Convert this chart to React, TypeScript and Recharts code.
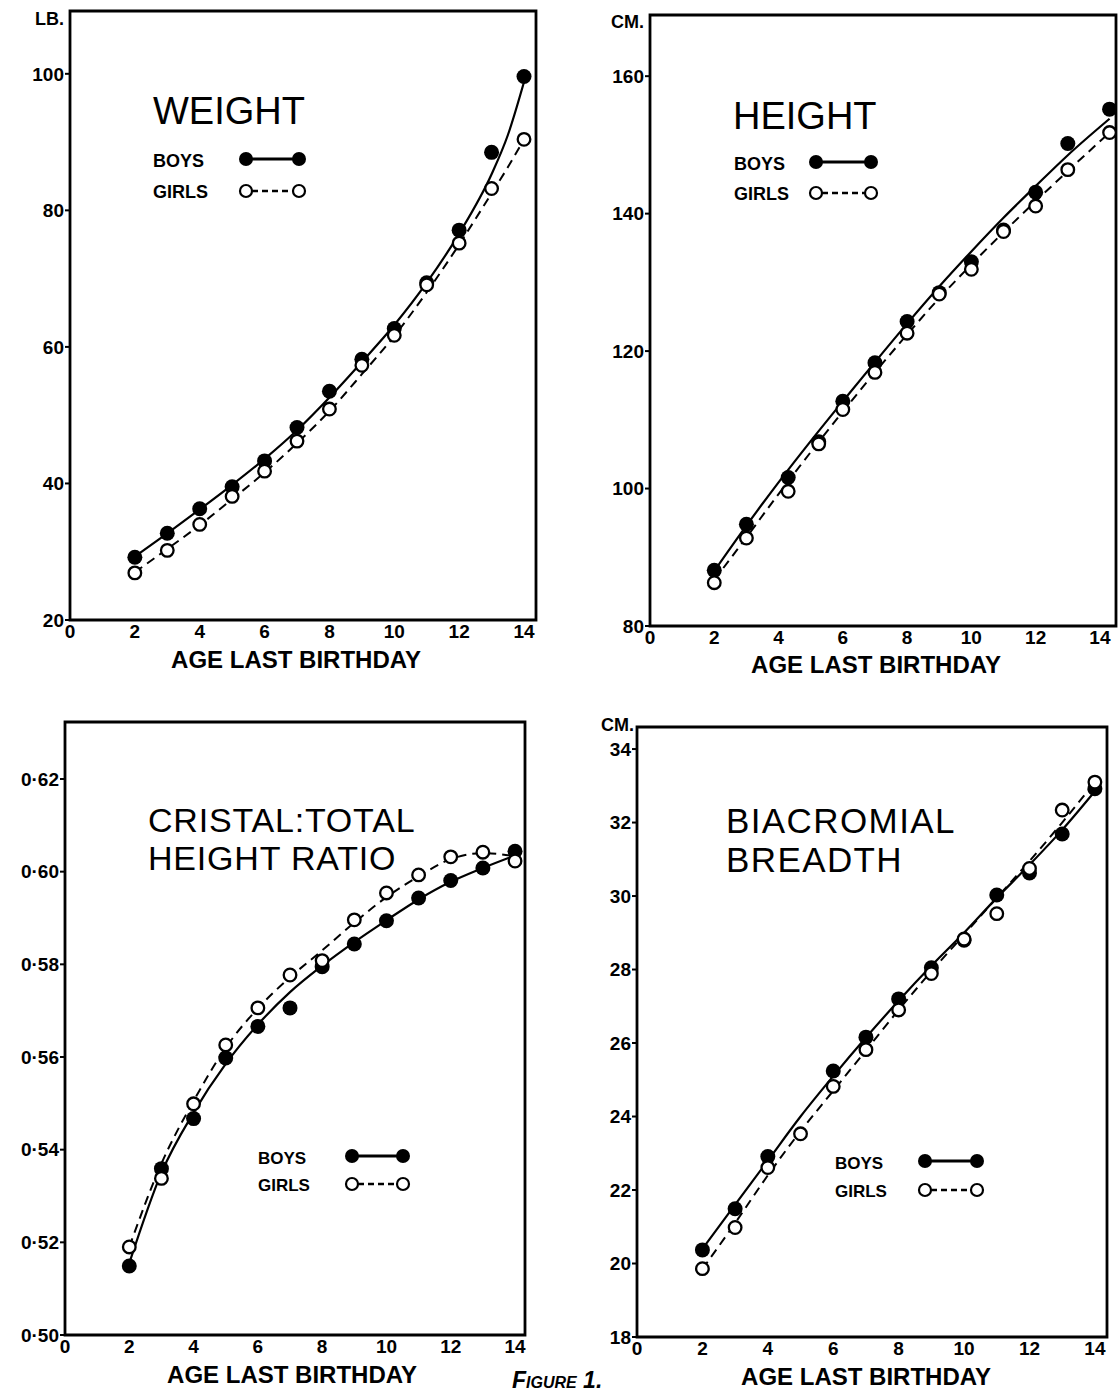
import React from 'react';
import { ComposedChart, Line, Scatter, XAxis, YAxis, ReferenceArea } from 'recharts';

// ages (years, "age last birthday")
const ages = [2, 3, 4, 5, 6, 7, 8, 9, 10, 11, 12, 13, 14];
const heightAges = [2, 3, 4.3, 5.25, 6, 7, 8, 9, 10, 11, 12, 13, 14.3];
const biacBoysAges = [2, 3, 4, 6, 7, 8, 9, 10, 11, 12, 13, 14];

// weight (lb)
const boysWeight = [29.2, 32.7, 36.3, 39.5, 43.3, 48.2, 53.5, 58.2, 62.7, 69.4, 77.1, 88.5, 99.6];
const girlsWeight = [26.9, 30.2, 34.0, 38.1, 41.8, 46.2, 50.9, 57.3, 61.7, 69.1, 75.2, 83.2, 90.4];
const fitWeightAges = [2, 3, 4, 5, 6, 7, 8, 9, 10, 11, 12, 13, 13.5, 14];
const boysWeightFit = [29.3, 32.7, 36.2, 39.8, 43.6, 47.8, 52.6, 57.8, 63.2, 69.4, 76.6, 85.3, 91.0, 98.8];
const girlsWeightFit = [27.0, 30.4, 33.9, 37.7, 41.6, 45.9, 50.6, 56.0, 61.6, 68.0, 75.0, 82.5, 86.3, 90.4];

// height (cm)
const boysHeight = [88.1, 94.8, 101.6, 106.8, 112.7, 118.3, 124.3, 128.5, 133.0, 137.6, 143.1, 150.2, 155.2];
const girlsHeight = [86.3, 92.8, 99.6, 106.5, 111.5, 116.9, 122.6, 128.3, 131.9, 137.4, 141.1, 146.4, 151.8];
const fitHeightAges = [2, 3, 4, 5, 6, 7, 8, 9, 10, 11, 12, 13, 14.3];
const boysHeightFit = [88.0, 94.6, 100.9, 106.9, 112.7, 118.4, 124.0, 129.4, 134.5, 139.4, 144.0, 148.5, 153.8];
const girlsHeightFit = [86.7, 92.9, 99.2, 105.3, 111.2, 116.9, 122.4, 127.7, 132.6, 137.3, 141.8, 146.2, 151.8];

// cristal : total height ratio
const boysRatio = [0.5149, 0.5359, 0.5467, 0.5598, 0.5666, 0.5706, 0.5795, 0.5844, 0.5894, 0.5943, 0.5981, 0.6008, 0.6044];
const girlsRatio = [0.519, 0.5338, 0.5499, 0.5626, 0.5706, 0.5777, 0.5808, 0.5896, 0.5954, 0.5993, 0.6032, 0.6042, 0.6023];
const boysRatioFit = [0.5155, 0.535, 0.548, 0.5585, 0.567, 0.574, 0.5797, 0.5848, 0.5895, 0.594, 0.5978, 0.6008, 0.6035];
const girlsRatioFit = [0.519, 0.537, 0.5505, 0.562, 0.5705, 0.5772, 0.583, 0.589, 0.5945, 0.599, 0.6027, 0.604, 0.6033];

// biacromial breadth (cm)
const boysBiac = [20.37, 21.49, 22.91, 25.24, 26.16, 27.2, 28.05, 28.8, 30.03, 30.63, 31.69, 32.92];
const girlsBiac = [19.86, 20.98, 22.61, 23.53, 24.82, 25.82, 26.9, 27.89, 28.83, 29.52, 30.75, 32.34, 33.1];
const boysBiacFit = [20.4, 21.6, 22.8, 24.0, 25.1, 26.15, 27.15, 28.1, 29.0, 29.95, 30.85, 31.8, 32.85];
const girlsBiacFit = [19.85, 21.1, 22.4, 23.6, 24.7, 25.8, 26.9, 27.95, 28.95, 29.95, 30.95, 32.0, 33.1];

const xTicks = [0, 2, 4, 6, 8, 10, 12, 14];
const weightTicks = [20, 40, 60, 80, 100];
const heightTicks = [80, 100, 120, 140, 160];
const ratioTicks = [0.5, 0.52, 0.54, 0.56, 0.58, 0.6, 0.62];
const biacTicks = [18, 20, 22, 24, 26, 28, 30, 32, 34];

type Pt = { x: number; y: number };
const zip = (xs: number[], ys: number[]): Pt[] => ys.map((y, i) => ({ x: xs[i], y }));

const FONT = '"Liberation Sans", Arial, sans-serif';

const filledDot = (p: any) => <circle cx={p.cx} cy={p.cy} r={7.5} fill="#000" />;
const openDot = (p: any) => (
  <circle cx={p.cx} cy={p.cy} r={6.3} fill="#fff" stroke="#000" strokeWidth={2.3} />
);

type Box = { l: number; r: number; t: number; b: number };

function Panel(props: {
  box: Box;
  xMax: number;
  yDomain: [number, number];
  yTicks: number[];
  fmt?: (v: number) => string;
  boys: Pt[];
  girls: Pt[];
  boysFit: Pt[];
  girlsFit: Pt[];
}) {
  const { box, xMax, yDomain, yTicks, fmt, boys, girls, boysFit, girlsFit } = props;
  const YW = 70;
  const XH = 40;
  const PAD = 10;
  const w = box.r - box.l;
  const h = box.b - box.t;
  const tickStyle = { fontFamily: FONT, fontWeight: 700, fontSize: 19, fill: '#000' };
  return (
    <div style={{ position: 'absolute', left: box.l - YW, top: box.t - PAD }}>
      <ComposedChart
        width={w + YW + PAD}
        height={h + PAD + XH}
        margin={{ top: PAD, right: PAD, left: 0, bottom: 0 }}
      >
        <XAxis
          type="number"
          dataKey="x"
          domain={[0, xMax]}
          ticks={xTicks}
          allowDataOverflow
          height={XH}
          axisLine={false}
          tickLine={false}
          tickSize={1}
          tickMargin={4}
          tick={tickStyle}
        />
        <YAxis
          type="number"
          dataKey="y"
          domain={yDomain}
          ticks={yTicks}
          allowDataOverflow
          width={YW}
          axisLine={false}
          tickSize={5}
          tickMargin={1}
          tickLine={{ stroke: '#000', strokeWidth: 2 }}
          tickFormatter={fmt}
          tick={tickStyle}
        />
        <ReferenceArea
          x1={0}
          x2={xMax}
          y1={yDomain[0]}
          y2={yDomain[1]}
          fill="none"
          stroke="#000"
          strokeWidth={2.8}
          fillOpacity={0}
        />
        <Line data={girlsFit} dataKey="y" type="monotone" stroke="#000" strokeWidth={2}
          strokeDasharray="9 6" dot={false} isAnimationActive={false} />
        <Line data={boysFit} dataKey="y" type="monotone" stroke="#000" strokeWidth={2.2}
          dot={false} isAnimationActive={false} />
        <Scatter data={boys} dataKey="y" shape={filledDot} isAnimationActive={false} />
        <Scatter data={girls} dataKey="y" shape={openDot} isAnimationActive={false} />
      </ComposedChart>
    </div>
  );
}

function Key({ x, y1, y2, d1, d2, size }: { x: number; y1: number; y2: number; d1: number; d2: number; size: number }) {
  return (
    <g>
      <text x={x} y={y1} fontFamily={FONT} fontWeight={700} fontSize={size}>BOYS</text>
      <text x={x} y={y2} fontFamily={FONT} fontWeight={700} fontSize={size}>GIRLS</text>
      <line x1={d1} x2={d2} y1={y1 - 8} y2={y1 - 8} stroke="#000" strokeWidth={2.8} />
      <circle cx={d1} cy={y1 - 8} r={7} fill="#000" />
      <circle cx={d2} cy={y1 - 8} r={7} fill="#000" />
      <line x1={d1 + 6} x2={d2 - 6} y1={y2 - 7} y2={y2 - 7} stroke="#000" strokeWidth={2.6} strokeDasharray="6 4" />
      <circle cx={d1} cy={y2 - 7} r={6} fill="#fff" stroke="#000" strokeWidth={2.2} />
      <circle cx={d2} cy={y2 - 7} r={6} fill="#fff" stroke="#000" strokeWidth={2.2} />
    </g>
  );
}

export default function App() {
  const ratioFmt = (v: number) => v.toFixed(2).replace('.', '·');
  const bold = { fontFamily: FONT, fontWeight: 700 } as const;
  const title = { fontFamily: FONT, fontWeight: 400 } as const;
  return (
    <div style={{ position: 'absolute', left: 0, top: 0, width: 1119, height: 1395, background: '#fff', overflow: 'hidden' }}>
      <Panel
        box={{ l: 70, r: 536, t: 11, b: 620 }}
        xMax={14.37}
        yDomain={[20, 109.2]}
        yTicks={weightTicks}
        boys={zip(ages, boysWeight)}
        girls={zip(ages, girlsWeight)}
        boysFit={zip(fitWeightAges, boysWeightFit)}
        girlsFit={zip(fitWeightAges, girlsWeightFit)}
      />
      <Panel
        box={{ l: 650, r: 1116, t: 15, b: 626 }}
        xMax={14.5}
        yDomain={[80, 168.9]}
        yTicks={heightTicks}
        boys={zip(heightAges, boysHeight)}
        girls={zip(heightAges, girlsHeight)}
        boysFit={zip(fitHeightAges, boysHeightFit)}
        girlsFit={zip(fitHeightAges, girlsHeightFit)}
      />
      <Panel
        box={{ l: 65, r: 525, t: 722, b: 1335 }}
        xMax={14.31}
        yDomain={[0.5, 0.6323]}
        yTicks={ratioTicks}
        fmt={ratioFmt}
        boys={zip(ages, boysRatio)}
        girls={zip(ages, girlsRatio)}
        boysFit={zip(ages, boysRatioFit)}
        girlsFit={zip(ages, girlsRatioFit)}
      />
      <Panel
        box={{ l: 637, r: 1107, t: 727, b: 1337 }}
        xMax={14.37}
        yDomain={[18, 34.6]}
        yTicks={biacTicks}
        boys={zip(biacBoysAges, boysBiac)}
        girls={zip(ages, girlsBiac)}
        boysFit={zip(ages, boysBiacFit)}
        girlsFit={zip(ages, girlsBiacFit)}
      />
      <svg width={1119} height={1395} style={{ position: 'absolute', left: 0, top: 0, pointerEvents: 'none' }}>
        <text x={35} y={25} {...bold} fontSize={18}>LB.</text>
        <text x={611} y={28} {...bold} fontSize={18}>CM.</text>
        <text x={601} y={731} {...bold} fontSize={18}>CM.</text>

        <text x={153} y={124} {...title} fontSize={38}>WEIGHT</text>
        <text x={733} y={129} {...title} fontSize={38}>HEIGHT</text>
        <text x={148} y={832} {...title} fontSize={34} letterSpacing={0.8}>CRISTAL:TOTAL</text>
        <text x={148} y={870} {...title} fontSize={34} letterSpacing={0.8}>HEIGHT RATIO</text>
        <text x={726} y={833} {...title} fontSize={35} letterSpacing={1.4}>BIACROMIAL</text>
        <text x={726} y={872} {...title} fontSize={35} letterSpacing={1.4}>BREADTH</text>

        <Key x={153} y1={167} y2={198} d1={246} d2={299} size={18} />
        <Key x={734} y1={170} y2={200} d1={816} d2={871} size={18} />
        <Key x={258} y1={1164} y2={1191} d1={352} d2={403} size={17} />
        <Key x={835} y1={1169} y2={1197} d1={925} d2={977} size={17} />

        <text x={296} y={668} {...bold} fontSize={24} textAnchor="middle">AGE LAST BIRTHDAY</text>
        <text x={876} y={673} {...bold} fontSize={24} textAnchor="middle">AGE LAST BIRTHDAY</text>
        <text x={292} y={1383} {...bold} fontSize={24} textAnchor="middle">AGE LAST BIRTHDAY</text>
        <text x={866} y={1385} {...bold} fontSize={24} textAnchor="middle">AGE LAST BIRTHDAY</text>

        <text x={512} y={1388} fontFamily={FONT} fontStyle="italic" fontWeight={700} fontSize={23} style={{ fontVariant: 'small-caps' }}>Figure 1.</text>
      </svg>
    </div>
  );
}
